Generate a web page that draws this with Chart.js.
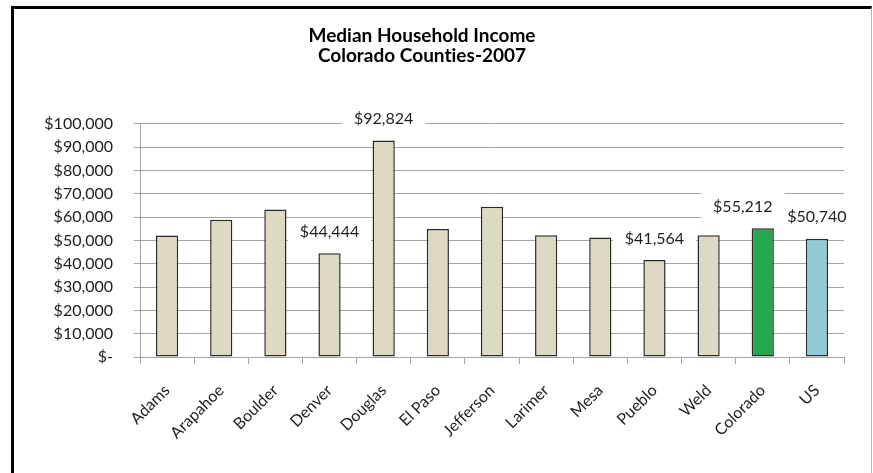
<!DOCTYPE html>
<html>
<head>
<meta charset="utf-8">
<script src="https://cdn.jsdelivr.net/npm/chart.js@4/dist/chart.umd.min.js"></script>
<style>
  html, body { margin: 0; padding: 0; background: #fff; }
  body { width: 873px; height: 473px; position: relative; overflow: hidden; }
  .frame {
    position: absolute; left: 11px; top: 6px; width: 861px; height: 480px;
    box-sizing: border-box;
    border-left: 3px solid #000; border-top: 3px solid #000; border-right: 1px solid #b8b8b8;
  }
  #incomeChart { position: absolute; left: 0; top: 0; }
</style>
</head>
<body>
<div class="frame"></div>
<canvas id="incomeChart" width="873" height="473"></canvas>
<script>
const counties = ['Adams', 'Arapahoe', 'Boulder', 'Denver', 'Douglas', 'El Paso', 'Jefferson',
  'Larimer', 'Mesa', 'Pueblo', 'Weld', 'Colorado', 'US'];
const medianIncome = [52100, 58900, 63200, 44444, 92824, 54900, 64400,
  52200, 51200, 41564, 52200, 55212, 50740];
const labelledCounties = ['Denver', 'Douglas', 'Pueblo', 'Colorado', 'US'];
const incomeTicks = [0, 10000, 20000, 30000, 40000, 50000, 60000, 70000, 80000, 90000, 100000];

const FONT = 'Lato, "Open Sans", sans-serif';
const GRID = '#a3a3a3';

const barColour = name => name === 'Colorado' ? '#23a84f' : name === 'US' ? '#92c9d7' : '#ddd9c3';
const dollars = v => v === 0 ? '$-' : '$' + v.toLocaleString('en-US');

// a tiny letter spacing keeps Lato from joining "ti" into a ligature
const noLigatures = {
  id: 'noLigatures',
  beforeDraw(chart) { chart.ctx.letterSpacing = '0.01px'; }
};

// value labels sit above some bars on a white box that hides the grid behind them
const valueLabels = {
  id: 'valueLabels',
  afterDatasetsDraw(chart) {
    const ctx = chart.ctx;
    const bars = chart.getDatasetMeta(0).data;
    ctx.save();
    ctx.font = '16px ' + FONT;
    ctx.textAlign = 'center';
    ctx.textBaseline = 'middle';
    counties.forEach((name, i) => {
      if (!labelledCounties.includes(name)) return;
      const bar = bars[i];
      const text = dollars(medianIncome[i]);
      const x = bar.x + (name === 'Colorado' ? -20 : 0);
      const y = bar.y - 21.5;
      const w = ctx.measureText(text).width + 24;
      ctx.fillStyle = '#fff';
      ctx.fillRect(x - w / 2, y - 14, w, 28);
      ctx.fillStyle = '#1e1e1e';
      ctx.fillText(text, x, y);
    });
    ctx.restore();
  }
};

new Chart(document.getElementById('incomeChart').getContext('2d'), {
  type: 'bar',
  data: {
    labels: counties,
    datasets: [{
      data: medianIncome,
      backgroundColor: counties.map(barColour),
      borderColor: '#2a2a2a',
      borderWidth: 1.5,
      borderSkipped: false,
      barPercentage: 0.41,
      categoryPercentage: 1
    }]
  },
  options: {
    responsive: false,
    animation: false,
    layout: { padding: { left: 0, right: 29, top: 10, bottom: 0 } },
    plugins: {
      legend: { display: false },
      tooltip: { enabled: false },
      title: {
        display: true,
        text: ['Median Household Income', 'Colorado Counties-2007'],
        color: '#000',
        font: { family: FONT, size: 19, weight: 'bold', lineHeight: 1.1 },
        padding: { top: 15, bottom: 57 }
      }
    },
    scales: {
      x: {
        grid: { display: true, drawOnChartArea: false, offset: true, color: GRID, tickLength: 7 },
        border: { color: GRID },
        ticks: {
          color: '#1e1e1e', font: { family: FONT, size: 16 },
          minRotation: 45, maxRotation: 45, padding: 17, autoSkip: false
        },
        afterFit: scale => { scale.height = 116; }
      },
      y: {
        min: 0,
        max: 100000,
        afterBuildTicks: scale => { scale.ticks = incomeTicks.map(v => ({ value: v })); },
        grid: { color: GRID, tickLength: 6 },
        border: { color: GRID },
        ticks: {
          color: '#1e1e1e', font: { family: FONT, size: 16 }, padding: 21,
          callback: v => dollars(v)
        },
        afterFit: scale => { scale.width = 140; }
      }
    }
  },
  plugins: [noLigatures, valueLabels]
});
</script>
</body>
</html>
